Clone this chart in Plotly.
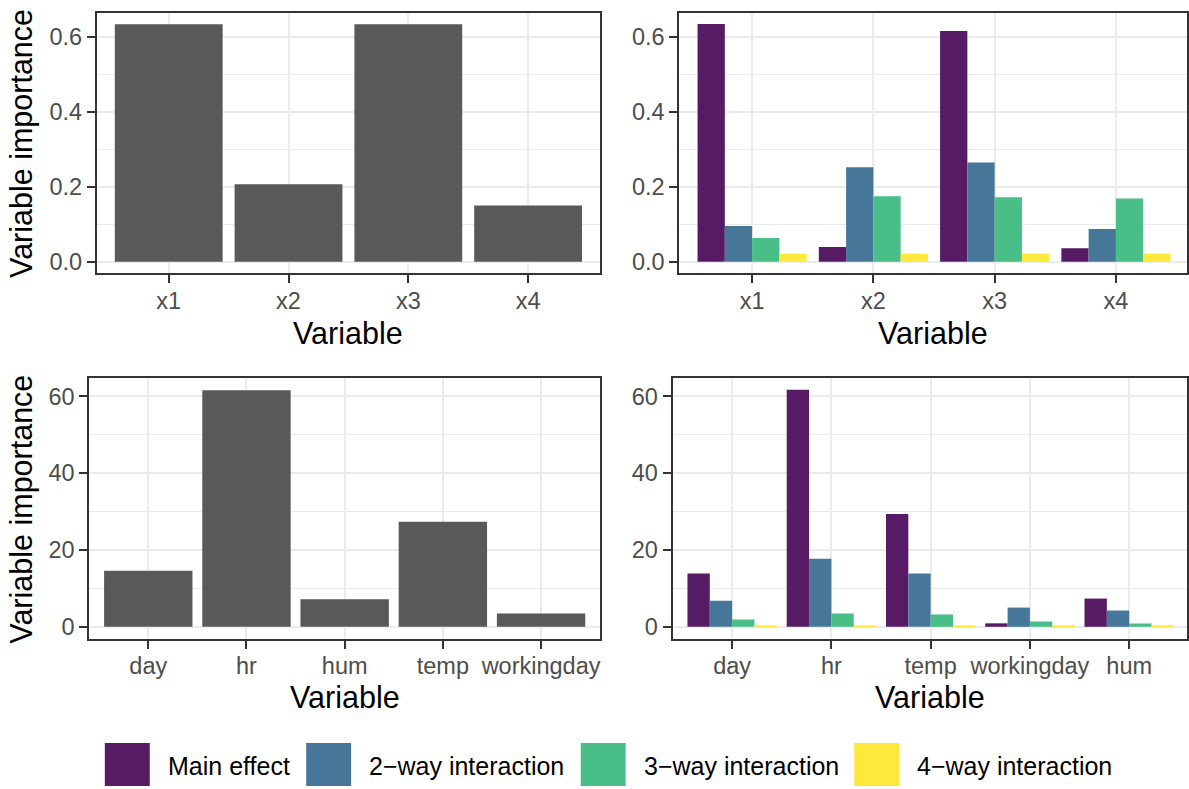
import plotly.graph_objects as go

# ---- data -------------------------------------------------------------
sim_vars = ["x1", "x2", "x3", "x4"]
sim_total = [0.634, 0.207, 0.634, 0.150]

bike_vars = ["day", "hr", "hum", "temp", "workingday"]
bike_total = [14.6, 61.6, 7.2, 27.35, 3.46]

effect_names = ["Main effect", "2\u2212way interaction", "3\u2212way interaction", "4\u2212way interaction"]
effect_colors = ["#571A65", "#467799", "#49BE86", "#FDE93B"]

sim_effects = [
    [0.635, 0.039, 0.616, 0.036],   # main effect
    [0.095, 0.252, 0.265, 0.087],   # 2-way
    [0.063, 0.175, 0.172, 0.169],   # 3-way
    [0.021, 0.021, 0.021, 0.021],   # 4-way
]

bike_order = ["day", "hr", "temp", "workingday", "hum"]
bike_effects = [
    [13.85, 61.7, 29.4, 0.9, 7.35],
    [6.8, 17.75, 13.85, 5.0, 4.24],
    [1.9, 3.46, 3.2, 1.38, 0.86],
    [0.15, 0.15, 0.15, 0.15, 0.15],
]

# ---- layout helpers -----------------------------------------------------
W, H = 1189, 789
FONT = "Liberation Sans, Arial, Helvetica, sans-serif"
GREY_BAR = "#595959"
GRID = "#EBEBEB"
FRAME = "#333333"
TICK_TXT = "#4D4D4D"
TICK_SIZE = 23.5
TITLE_SIZE = 30.5
LEGEND_SIZE = 25


def px_x(v):
    return v / W


def px_y(v):
    return 1 - v / H


fig = go.Figure()

# left panels: overall importance
fig.add_trace(go.Bar(x=sim_vars, y=sim_total, marker_color=GREY_BAR,
                     marker_line_width=0, showlegend=False,
                     xaxis="x", yaxis="y"))
fig.add_trace(go.Bar(x=bike_vars, y=bike_total, marker_color=GREY_BAR,
                     marker_line_width=0, showlegend=False,
                     xaxis="x3", yaxis="y3"))

# right panels: importance split by interaction order
for name, col, vals in zip(effect_names, effect_colors, sim_effects):
    fig.add_trace(go.Bar(x=sim_vars, y=vals, name=name, marker_color=col,
                         marker_line_width=0, showlegend=False,
                         xaxis="x2", yaxis="y2"))
for name, col, vals in zip(effect_names, effect_colors, bike_effects):
    fig.add_trace(go.Bar(x=bike_order, y=vals, name=name, marker_color=col,
                         marker_line_width=0, showlegend=False,
                         xaxis="x4", yaxis="y4"))


def xaxis(domain, rng, anchor):
    return dict(domain=domain, range=rng, anchor=anchor, type="category",
                showline=True, mirror=True, linecolor=FRAME, linewidth=2,
                ticks="outside", ticklen=8, tickwidth=2, tickcolor=FRAME,
                ticklabelstandoff=-3,
                showgrid=True, gridcolor=GRID, gridwidth=2.2,
                tickfont=dict(family=FONT, size=TICK_SIZE, color=TICK_TXT),
                zeroline=False, fixedrange=True)


def yaxis(domain, rng, anchor, dtick, fmt):
    return dict(domain=domain, range=rng, anchor=anchor,
                showline=True, mirror=True, linecolor=FRAME, linewidth=2,
                ticks="outside", ticklen=8, tickwidth=2, tickcolor=FRAME,
                showgrid=True, gridcolor=GRID, gridwidth=2.2,
                dtick=dtick, tick0=0, tickformat=fmt,
                minor=dict(dtick=dtick / 2, showgrid=True, gridcolor=GRID,
                           gridwidth=1.1, ticks=""),
                tickfont=dict(family=FONT, size=TICK_SIZE, color=TICK_TXT),
                zeroline=False, fixedrange=True)


top_y = [px_y(274), px_y(12.7)]
bot_y = [px_y(640.7), px_y(379.3)]

tl_x = [px_x(97), px_x(601)]
tr_x = [px_x(680.5), 1.0]
bl_x = [px_x(89.5), px_x(601)]
br_x = [px_x(673.7), 1.0]

sim_rng = [-0.031, 0.665]
bike_rng = [-3.2, 64.7]

fig.update_layout(
    width=W, height=H,
    margin=dict(l=0, r=0, t=0, b=0),
    paper_bgcolor="white", plot_bgcolor="white",
    barmode="group", bargap=0.1, bargroupgap=0,
    font=dict(family=FONT),
    showlegend=False,
    xaxis=xaxis(tl_x, [-0.6, 3.6], "y"),
    yaxis=yaxis(top_y, sim_rng, "x", 0.2, ".1f"),
    xaxis2=xaxis(tr_x, [-0.6, -0.6 + (W - 680.5) / 121.47], "y2"),
    yaxis2=yaxis(top_y, sim_rng, "x2", 0.2, ".1f"),
    xaxis3=xaxis(bl_x, [-0.6, 4.6], "y3"),
    yaxis3=yaxis(bot_y, bike_rng, "x3", 20, "d"),
    xaxis4=xaxis(br_x, [-0.6, -0.6 + (W - 673.7) / 99.43], "y4"),
    yaxis4=yaxis(bot_y, bike_rng, "x4", 20, "d"),
)
fig.update_xaxes(categoryorder="array")
fig.layout.xaxis.categoryarray = sim_vars
fig.layout.xaxis2.categoryarray = sim_vars
fig.layout.xaxis3.categoryarray = bike_vars
fig.layout.xaxis4.categoryarray = bike_order

annotations = []
# axis titles
for cx in [(97 + 601) / 2, (680.5 + 1189) / 2]:
    annotations.append(dict(text="Variable", x=px_x(cx), y=px_y(333.5),
                            xref="paper", yref="paper", showarrow=False,
                            xanchor="center", yanchor="middle",
                            font=dict(family=FONT, size=TITLE_SIZE, color="black")))
for cx in [(89.5 + 601) / 2, (673.7 + 1189) / 2]:
    annotations.append(dict(text="Variable", x=px_x(cx), y=px_y(698.5),
                            xref="paper", yref="paper", showarrow=False,
                            xanchor="center", yanchor="middle",
                            font=dict(family=FONT, size=TITLE_SIZE, color="black")))
for cy in [(12.7 + 274) / 2, (379.3 + 640.7) / 2]:
    annotations.append(dict(text="Variable importance", x=px_x(22), y=px_y(cy),
                            xref="paper", yref="paper", showarrow=False,
                            textangle=-90, xanchor="center", yanchor="middle",
                            font=dict(family=FONT, size=TITLE_SIZE, color="black")))

# legend keys and labels along the bottom
key_left = [105, 306.7, 581.7, 855.7]
key_w, key_top, key_bot = 45, 745, 788
shapes = []
for name, col, kx in zip(effect_names, effect_colors, key_left):
    shapes.append(dict(type="rect", xref="paper", yref="paper",
                       x0=px_x(kx), x1=px_x(kx + key_w),
                       y0=px_y(key_bot), y1=px_y(key_top),
                       fillcolor=col, line_width=0))
    annotations.append(dict(text=name, x=px_x(kx + key_w + 16), y=px_y(767.5),
                            xref="paper", yref="paper", showarrow=False,
                            xanchor="left", yanchor="middle",
                            font=dict(family=FONT, size=LEGEND_SIZE, color="black")))

fig.update_layout(annotations=annotations, shapes=shapes)

fig.write_html("out.html")
